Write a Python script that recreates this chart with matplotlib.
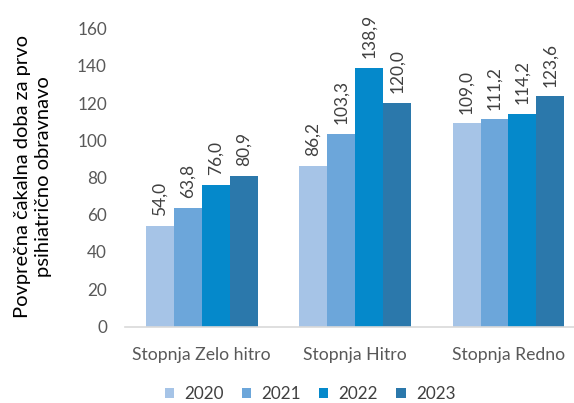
import matplotlib.pyplot as plt
import numpy as np

categories = ["Stopnja Zelo hitro", "Stopnja Hitro", "Stopnja Redno"]
years = ["2020", "2021", "2022", "2023"]
values = {
    "2020": [54.0, 86.2, 109.0],
    "2021": [63.8, 103.3, 111.2],
    "2022": [76.0, 138.9, 114.2],
    "2023": [80.9, 120.0, 123.6],
}
colors = ["#A6C4E7", "#6CA6DA", "#0589CB", "#2B78AB"]
yticks = [0, 20, 40, 60, 80, 100, 120, 140, 160]

plt.rcParams["font.family"] = ["Lato", "DejaVu Sans"]

fig = plt.figure(figsize=(5.74, 4.03), dpi=100)
ax = fig.add_axes([125 / 574, (403 - 326.5) / 403, 1 - 125 / 574, (326.5 - 28.5) / 403])

x = np.arange(len(categories))
width = 0.182
for i, (yr, col) in enumerate(zip(years, colors)):
    offs = (i - 1.5) * width
    bars = ax.bar(x + offs, values[yr], width, color=col, label=yr, zorder=2)
    for b, v in zip(bars, values[yr]):
        ax.annotate(f"{v:.1f}".replace(".", ","),
                    (b.get_x() + b.get_width() / 2, v), xytext=(0, 7),
                    textcoords="offset points", rotation=90, ha="center", va="bottom",
                    fontsize=12.5, color="#404040")

ax.set_ylim(0, 160)
ax.set_xlim(-0.5, (574 - 202) / 153.25)
ax.set_yticks(yticks)
ax.set_xticks(x)
ax.set_xticklabels(categories)
ax.tick_params(axis="y", length=0, pad=13, labelsize=12.3, labelcolor="#595959")
ax.tick_params(axis="x", length=0, pad=15, labelsize=12.7, labelcolor="#595959")
for s in ["top", "right", "left"]:
    ax.spines[s].set_visible(False)
ax.spines["bottom"].set_color("#D9D9D9")
ax.spines["bottom"].set_linewidth(1.2)

fig.text(33 / 574, 1 - 177 / 403, "Povprečna čakalna doba za prvo\npsihiatrično obravnavo",
         rotation=90, ha="center", va="center", multialignment="center",
         fontsize=14.5, color="#000000", linespacing=1.3)

leg = fig.legend(loc="center", bbox_to_anchor=(310 / 574, 1 - 394 / 403), ncol=4,
                 frameon=False, fontsize=12.3, handlelength=0.55, handleheight=0.55,
                 columnspacing=1.05, handletextpad=0.6, borderpad=0.2)
for t in leg.get_texts():
    t.set_color("#404040")

fig.savefig("out.png", dpi=100)
